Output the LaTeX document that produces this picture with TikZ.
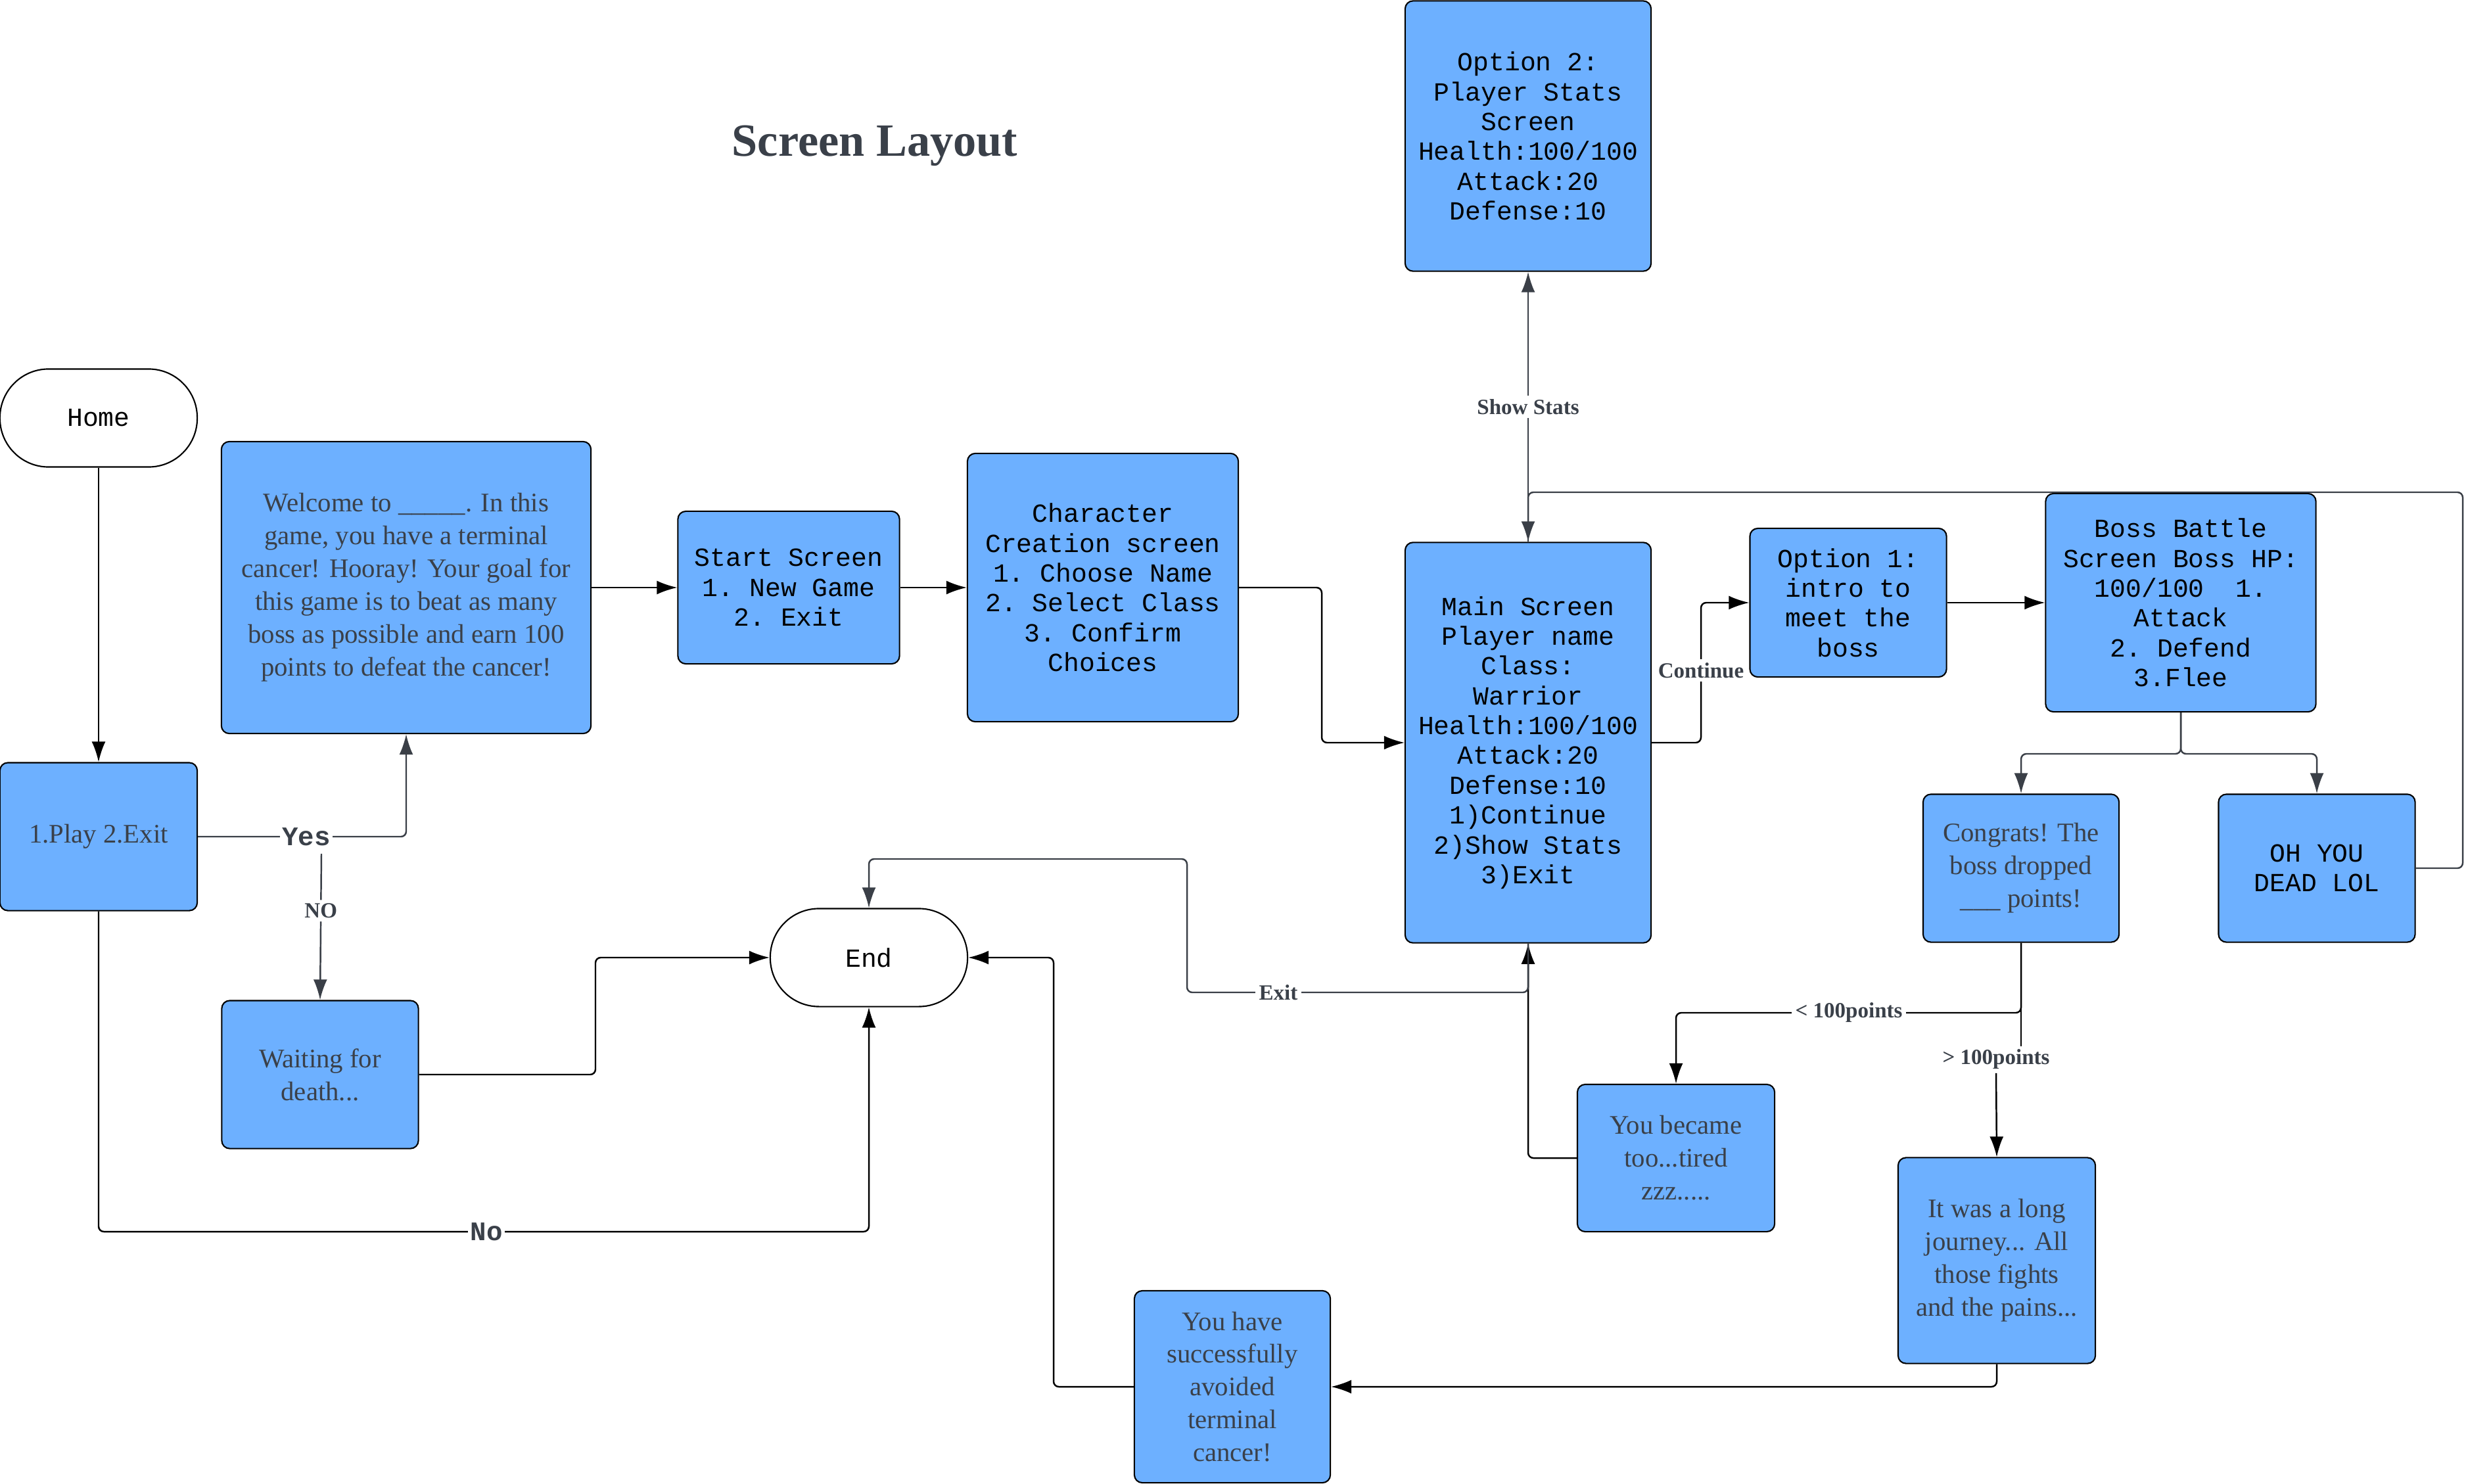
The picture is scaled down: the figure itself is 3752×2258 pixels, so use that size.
\documentclass[tikz,border=0pt]{standalone}
\usepackage{fontspec}
\setmainfont{Liberation Serif}
\setmonofont{Liberation Mono}
\usetikzlibrary{arrows.meta}
\definecolor{boxblue}{HTML}{6DB0FF}
\definecolor{txtgray}{HTML}{3A4049}
\definecolor{lngray}{HTML}{3A3F47}
\begin{document}
\begin{tikzpicture}[x=0.01cm,y=-0.01cm,
  box/.style={draw=black, line width=0.6pt, fill=boxblue, rounded corners=0.12cm, align=center, inner sep=0pt},
  serifbox/.style={box, text=txtgray, font=\fontsize{11.6}{14.2}\selectfont},
  monobox/.style={box, text=black, font=\ttfamily\fontsize{11.3}{12.9}\selectfont},
  term/.style={draw=black, line width=0.6pt, fill=white, rounded corners=0.74cm, minimum width=3cm, minimum height=1.49cm, inner sep=0pt, font=\ttfamily\fontsize{11.3}{12.9}\selectfont},
  conn/.style={line width=0.7pt, draw=black, rounded corners=0.08cm, -{Latex[length=0.31cm,width=0.21cm]}},
  gconn/.style={conn, draw=lngray},
  plainln/.style={line width=0.7pt, draw=black, rounded corners=0.08cm},
  lbl/.style={fill=white, inner sep=1.5pt, text=txtgray, font=\bfseries\fontsize{9.4}{11}\selectfont},
  lblmono/.style={fill=white, inner sep=1pt, text=txtgray, font=\ttfamily\bfseries\fontsize{11.6}{13}\selectfont},
]
\useasboundingbox (0,0) rectangle (3752,2258);

% title
\node[font=\bfseries\fontsize{20}{24}\selectfont, text=txtgray] (title) at (1331,222) {Screen Layout};

% terminals
\node[term] (home) at (150,636) {Home};
\node[term] (end) at (1322,1457) {End};

% boxes
\node[serifbox, minimum width=3cm, minimum height=2.25cm] (play) at (150,1273) {1.Play 2.Exit};
\node[serifbox, minimum width=5.62cm, minimum height=4.44cm] (welcome) at (618,894)
  {Welcome to \_\_\_\_\_. In this\\ game, you have a terminal\\ cancer! Hooray! Your goal for\\ this game is to beat as many\\ boss as possible and earn 100\\ points to defeat the cancer!};
\node[serifbox, minimum width=2.99cm, minimum height=2.25cm] (waiting) at (487,1635) {Waiting for\\ death...};
\node[monobox, minimum width=3.37cm, minimum height=2.32cm] (start) at (1200,894) {Start Screen\\ 1. New Game\\ 2. Exit};
\node[monobox, minimum width=4.12cm, minimum height=4.08cm] (char) at (1678,894)
  {Character\\ Creation screen\\ 1. Choose Name\\ 2. Select Class\\ 3. Confirm\\ Choices};
\node[monobox, minimum width=3.74cm, minimum height=6.09cm] (main) at (2325,1130)
  {Main Screen\\ Player name\\ Class:\\ Warrior\\ Health:100/100\\ Attack:20\\ Defense:10\\ 1)Continue\\ 2)Show Stats\\ 3)Exit};
\node[monobox, minimum width=3.74cm, minimum height=4.11cm] (opt2) at (2325,207)
  {Option 2:\\ Player Stats\\ Screen\\ Health:100/100\\ Attack:20\\ Defense:10};
\node[monobox, minimum width=2.99cm, minimum height=2.26cm] (opt1) at (2812,917)
  {Option 1:\\ intro to\\ meet the\\ boss};
\node[monobox, minimum width=4.11cm, minimum height=3.32cm] (boss) at (3318,917)
  {Boss Battle\\ Screen Boss HP:\\ 100/100~~1.\\ Attack\\ 2. Defend\\ 3.Flee};
\node[serifbox, minimum width=2.98cm, minimum height=2.25cm] (congrats) at (3075,1321)
  {Congrats! The\\ boss dropped\\ \_\_\_ points!};
\node[monobox, minimum width=2.99cm, minimum height=2.25cm] (dead) at (3525,1321) {OH YOU\\ DEAD LOL};
\node[serifbox, minimum width=3cm, minimum height=2.24cm] (tired) at (2550,1762) {You became\\ too...tired\\ zzz.....};
\node[serifbox, minimum width=3cm, minimum height=3.13cm] (journey) at (3038,1918)
  {It was a long\\ journey... All\\ those fights\\ and the pains...};
\node[serifbox, minimum width=2.98cm, minimum height=2.92cm] (avoided) at (1875,2110)
  {You have\\ successfully\\ avoided\\ terminal\\ cancer!};

% connectors
\draw[conn] (home) -- (play);
\draw[gconn] (play.east) -| (welcome.south);
\node[lblmono] (yes) at (466,1273) {Yes};
\coordinate (nostart) at (489,1299);
\draw[gconn] (nostart) -- (waiting.north) node[lbl, pos=0.39] (nolbl) {NO};
\draw[conn] (waiting.east) -- (906,1635) |- (end.west);
\draw[conn] (play.south) -- (150,1874) -| (end.south);
\node[lblmono] (nolbl2) at (740,1874) {No};

\draw[conn] (welcome.east) -- (start.west);
\draw[conn] (start.east) -- (char.west);
\draw[conn] (char.east) -- (2011,894) |- (main.west);

\draw[conn] (main.east) -- (2588,1130) |- (opt1.west);
\node[lbl] (contlbl) at (2588,1020) {Continue};
\draw[conn] (opt1.east) -- (boss.west);

\draw[gconn] (main.north) -- (opt2.south) node[lbl, midway] (showlbl) {Show Stats};

\coordinate (loop) at (3747,749);
\draw[gconn] (dead.east) -| (loop) -| (main.north);

\draw[gconn] (boss.south) -- (3318,1147) -| (congrats.north);
\draw[gconn] (boss.south) -- (3318,1147) -| (dead.north);

\draw[conn] (congrats.south) -- (3075,1541) -| (tired.north);
\node[lbl] (lt) at (2813,1541) {< 100points};
\draw[plainln] (congrats.south) -- (3075,1593);
\node[lbl] (gt) at (3037,1612) {> 100points};
\draw[conn] (gt.south) -- (journey.north);

\draw[conn] (tired.west) -| (main.south);
\draw[gconn] (main.south) |- (1806,1510) -- (1806,1307) -| (end.north);
\node[lbl] (exitlbl) at (1945,1510) {Exit};

\draw[conn] (journey.south) |- (avoided.east);
\draw[conn] (avoided.west) -- (1603,2110) |- (end.east);
\end{tikzpicture}
\end{document}
